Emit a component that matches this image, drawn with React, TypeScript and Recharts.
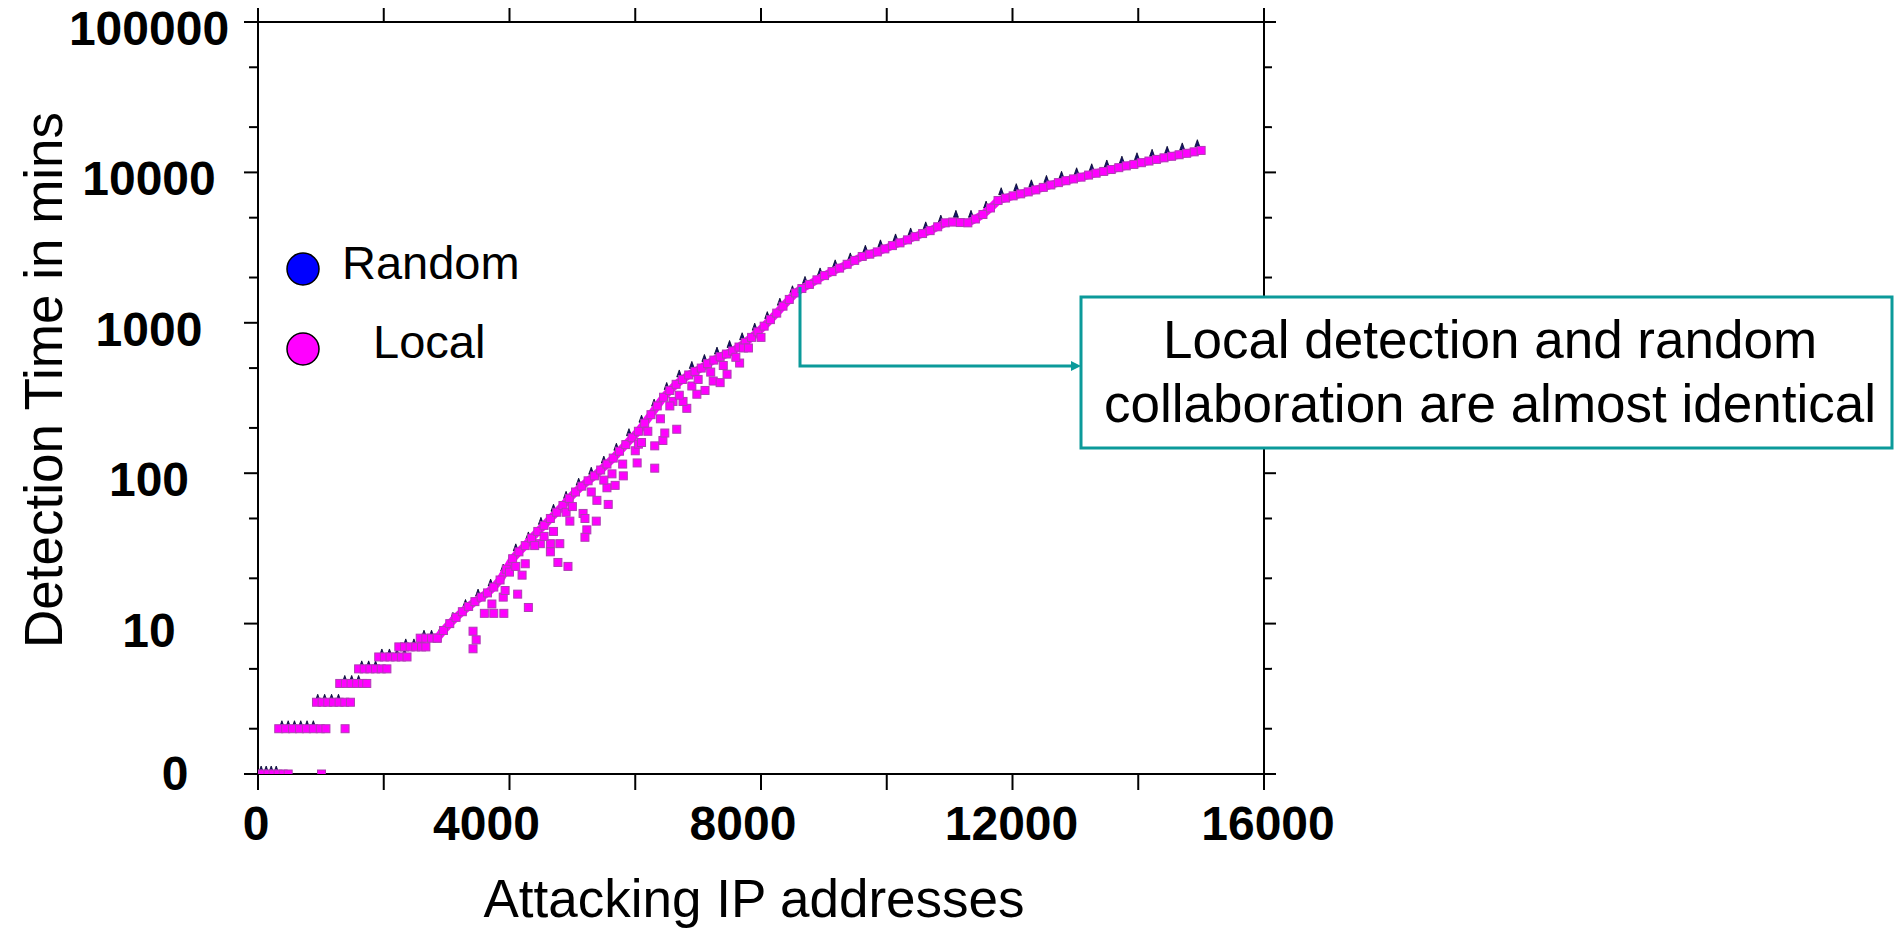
import { ScatterChart, Scatter, XAxis, YAxis } from 'recharts'

const W = 1895
const H = 930
const PLOT_LEFT = 258
const PLOT_RIGHT = 1264
const PLOT_TOP = 22
const PLOT_BOTTOM = 774
const FONT = '"Liberation Sans", Arial, Helvetica, sans-serif'
const TEAL = '#0b9a9a'

// axis ticks
const xTicks = [0, 2000, 4000, 6000, 8000, 10000, 12000, 14000, 16000]
const xLabelled = [0, 4000, 8000, 12000, 16000]
const yTicks = [1, 2, 5, 10, 20, 50, 100, 200, 500, 1000, 2000, 5000, 10000, 20000, 50000, 100000]
const yMajor = [1, 10, 100, 1000, 10000, 100000]

// Random collaboration: [attacking IPs, detection time in mins]
const randomSteps: [number, number][] = [
  [50, 1], [130, 1], [210, 1], [290, 1],
  [380, 2], [480, 2], [580, 2], [680, 2], [780, 2], [880, 2],
  [950, 3], [1060, 3], [1170, 3], [1280, 3],
  [1380, 4], [1490, 4], [1600, 4],
  [1650, 5], [1760, 5], [1870, 5],
  [1970, 6], [2090, 6], [2210, 6], [2330, 6],
  [2350, 7], [2480, 7], [2610, 7],
  [2640, 8], [2760, 8],
]

const randomCurve: [number, number][] = [
  [2900, 8.5], [3100, 10.5], [3300, 12.8], [3500, 15], [3700, 17.5], [3900, 22],
  [4100, 30], [4300, 36], [4500, 45], [4700, 55], [4900, 67], [5100, 82],
  [5300, 97], [5500, 115], [5700, 140], [5900, 175], [6100, 215], [6300, 275],
  [6500, 355], [6700, 430], [6900, 490], [7100, 545], [7300, 610], [7500, 675],
  [7700, 760], [7900, 880], [8100, 1050], [8300, 1290], [8500, 1560], [8700, 1800],
  [8940, 2050], [9180, 2320], [9420, 2580], [9660, 2900], [9900, 3150], [10140, 3450],
  [10380, 3780], [10620, 4150], [10860, 4600], [11100, 4950], [11340, 4950], [11580, 5700],
  [11820, 7000], [12060, 7450], [12300, 7900], [12540, 8450], [12780, 9000], [13020, 9500],
  [13260, 10100], [13500, 10700], [13740, 11350], [13980, 11950], [14220, 12600],
  [14460, 13200], [14700, 13900], [14940, 14600],
]

// Local detection
const localSteps: [number, number][] = [
  [0, 1], [80, 1], [160, 1], [240, 1], [320, 1], [400, 1], [480, 1], [1010, 1],
  [330, 2], [440, 2], [550, 2], [660, 2], [770, 2], [880, 2], [990, 2], [1080, 2], [1385, 2],
  [930, 3], [1020, 3], [1110, 3], [1200, 3], [1290, 3], [1380, 3], [1470, 3],
  [1300, 4], [1390, 4], [1480, 4], [1570, 4], [1660, 4], [1730, 4],
  [1600, 5], [1690, 5], [1780, 5], [1870, 5], [1960, 5], [2050, 5],
  [1920, 6], [2010, 6], [2100, 6], [2190, 6], [2280, 6], [2370, 6],
  [2240, 7], [2330, 7], [2420, 7], [2510, 7], [2600, 7], [2670, 7],
  [2580, 8], [2670, 8], [2760, 8], [2850, 8],
]

const localCurve: [number, number][] = [
  [2850, 8], [2950, 9], [3050, 10], [3150, 11], [3250, 12], [3350, 13], [3450, 14],
  [3550, 15], [3650, 16], [3750, 17.5], [3850, 19.5], [3950, 23], [4050, 27], [4150, 30],
  [4250, 33], [4350, 37], [4450, 41], [4550, 45], [4650, 50], [4750, 55], [4850, 61],
  [4950, 68], [5050, 75], [5150, 82], [5250, 89], [5350, 96], [5450, 105], [5550, 115],
  [5650, 126], [5750, 140], [5850, 155], [5950, 172], [6050, 190], [6150, 215], [6250, 245],
  [6350, 280], [6450, 320], [6550, 355], [6650, 390], [6750, 420], [6850, 450], [6950, 475],
  [7050, 500], [7150, 535], [7250, 565], [7350, 595], [7450, 620], [7550, 650], [7650, 690],
  [7750, 740], [7850, 800], [7950, 870], [8050, 950], [8150, 1050], [8250, 1160], [8350, 1290],
  [8450, 1430], [8550, 1580], [8650, 1690], [8770, 1800], [8890, 1930], [9010, 2060],
  [9130, 2190], [9250, 2310], [9370, 2450], [9490, 2600], [9610, 2760], [9730, 2860],
  [9850, 2960], [9970, 3100], [10090, 3260], [10210, 3400], [10330, 3560], [10450, 3740],
  [10570, 3920], [10690, 4100], [10810, 4350], [10930, 4620], [11050, 4680], [11170, 4640],
  [11290, 4620], [11410, 4900], [11530, 5250], [11650, 5800], [11770, 6500], [11890, 6750],
  [12010, 6980], [12130, 7200], [12250, 7420], [12370, 7650], [12490, 7950], [12610, 8250],
  [12730, 8550], [12850, 8800], [12970, 9050], [13090, 9300], [13210, 9600], [13330, 9880],
  [13450, 10150], [13570, 10450], [13690, 10750], [13810, 11050], [13930, 11300],
  [14050, 11600], [14170, 11900], [14290, 12200], [14410, 12500], [14530, 12800],
  [14650, 13100], [14770, 13400], [14890, 13700], [15000, 14000],
]

const localSpread: [number, number][] = [
  [3420, 8.9], [3470, 7.8], [3420, 6.8], [3600, 11.7], [3750, 11.7], [3910, 11.7],
  [3720, 13.5], [3900, 15], [3930, 16.6], [4130, 15.7], [4300, 12.8], [4200, 21],
  [4250, 25], [4490, 34], [4650, 34], [4800, 34], [4650, 30], [4770, 25.5], [4930, 24],
  [4700, 41], [4960, 48], [5170, 54], [5200, 50], [5380, 48], [5230, 42], [5200, 37.5],
  [5390, 66], [5570, 62], [5550, 80], [5680, 83], [5810, 96], [5630, 99], [6030, 117],
  [6000, 141], [6050, 156], [6310, 108], [6310, 152], [6440, 165], [6470, 185], [6660, 196],
  [6820, 270], [6760, 300], [6600, 300], [6980, 335], [7110, 355], [7240, 410], [7350, 400],
  [7460, 455], [7660, 540], [7720, 680],
  [4000, 22], [4100, 24], [4400, 33], [4550, 38], [4900, 55], [5000, 60], [5300, 75],
  [5500, 90], [5800, 115], [6100, 160], [6200, 190], [6400, 230], [6550, 280], [6700, 330],
  [6900, 380], [7000, 420], [7200, 470], [7400, 520], [7600, 590], [7800, 680], [8000, 800],
]

const toPts = (arr: [number, number][]) => arr.map(([x, y]) => ({ x, y }))

const xLabelShift: Record<number, number> = { 0: -2, 4000: -23, 8000: -18, 12000: -1, 16000: 4 }

// eslint-disable-next-line @typescript-eslint/no-explicit-any
function Square(props: any) {
  const { cx, cy } = props
  if (cx == null || cy == null) return <g />
  return (
    <rect x={cx - 4} y={cy - 4} width={8} height={8} fill="#ff00ff" stroke="#b03cb4" strokeWidth={1} />
  )
}

// eslint-disable-next-line @typescript-eslint/no-explicit-any
function Triangle(props: any) {
  const { cx, cy } = props
  if (cx == null || cy == null) return <g />
  return (
    <path
      d={`M${cx - 2.5},${cy - 1} L${cx + 2.5},${cy - 1} L${cx},${cy - 8} Z`}
      fill="#14146e"
      stroke="#00002a"
      strokeWidth={0.8}
    />
  )
}

// eslint-disable-next-line @typescript-eslint/no-explicit-any
function LeftTick(props: any) {
  const { y, payload } = props
  const v = payload?.value
  const major = yMajor.includes(v)
  const zero = v === 1
  return (
    <g>
      <line x1={PLOT_LEFT - (major ? 14 : 9)} x2={PLOT_LEFT} y1={y} y2={y} stroke="#000" strokeWidth={2} />
      {major && (
        <text
          x={zero ? 175 : 149}
          y={y + (zero ? 16 : 23)}
          textAnchor="middle"
          fontFamily={FONT}
          fontWeight="bold"
          fontSize={48}
          fill="#000"
        >
          {zero ? '0' : String(v)}
        </text>
      )}
    </g>
  )
}

// eslint-disable-next-line @typescript-eslint/no-explicit-any
function RightTick(props: any) {
  const { y, payload } = props
  const major = yMajor.includes(payload?.value)
  return <line x1={PLOT_RIGHT} x2={PLOT_RIGHT + (major ? 12 : 8)} y1={y} y2={y} stroke="#000" strokeWidth={2} />
}

// eslint-disable-next-line @typescript-eslint/no-explicit-any
function BottomTick(props: any) {
  const { x, payload } = props
  const v = payload?.value
  return (
    <g>
      <line x1={x} x2={x} y1={PLOT_BOTTOM} y2={PLOT_BOTTOM + 16} stroke="#000" strokeWidth={2} />
      {xLabelled.includes(v) && (
        <text
          x={x + (xLabelShift[v] ?? 0)}
          y={840}
          textAnchor="middle"
          fontFamily={FONT}
          fontWeight="bold"
          fontSize={48}
          fill="#000"
        >
          {v}
        </text>
      )}
    </g>
  )
}

// eslint-disable-next-line @typescript-eslint/no-explicit-any
function TopTick(props: any) {
  const { x } = props
  return <line x1={x} x2={x} y1={PLOT_TOP - 14} y2={PLOT_TOP} stroke="#000" strokeWidth={2} />
}

const axisLine = { stroke: '#000', strokeWidth: 2 }

export default function App() {
  return (
    <div style={{ position: 'absolute', left: 0, top: 0, width: W, height: H, background: '#fff' }}>
      <ScatterChart width={W} height={H} margin={{ top: 12, right: 611, bottom: 96, left: 58 }}>
        <XAxis
          xAxisId="b"
          type="number"
          dataKey="x"
          domain={[0, 16000]}
          ticks={xTicks}
          interval={0}
          height={60}
          axisLine={axisLine}
          tickLine={false}
          tick={BottomTick}
          allowDataOverflow
        />
        <XAxis
          xAxisId="t"
          orientation="top"
          type="number"
          dataKey="x"
          domain={[0, 16000]}
          ticks={xTicks}
          interval={0}
          height={10}
          axisLine={axisLine}
          tickLine={false}
          tick={TopTick}
          allowDataOverflow
        />
        <YAxis
          yAxisId="l"
          type="number"
          dataKey="y"
          scale="log"
          domain={[1, 100000]}
          ticks={yTicks}
          interval={0}
          width={200}
          axisLine={axisLine}
          tickLine={false}
          tick={LeftTick}
          allowDataOverflow
        />
        <YAxis
          yAxisId="r"
          orientation="right"
          type="number"
          dataKey="y"
          scale="log"
          domain={[1, 100000]}
          ticks={yTicks}
          interval={0}
          width={20}
          axisLine={axisLine}
          tickLine={false}
          tick={RightTick}
          allowDataOverflow
        />
        <Scatter xAxisId="b" yAxisId="l" name="Random" data={toPts([...randomSteps, ...randomCurve])} shape={Triangle} isAnimationActive={false} />
        <Scatter xAxisId="b" yAxisId="l" name="Local" data={toPts(localSteps)} shape={Square} isAnimationActive={false} />
        <Scatter
          xAxisId="b"
          yAxisId="l"
          name="Local"
          data={toPts(localCurve)}
          shape={Square}
          line={{ stroke: '#ff00ff', strokeWidth: 8 }}
          isAnimationActive={false}
        />
        <Scatter xAxisId="b" yAxisId="l" name="Local" data={toPts(localSpread)} shape={Square} isAnimationActive={false} />
      </ScatterChart>

      <svg
        width={W}
        height={H}
        style={{ position: 'absolute', left: 0, top: 0, pointerEvents: 'none' }}
        fontFamily={FONT}
      >
        {/* axis titles */}
        <text x={754} y={917} textAnchor="middle" fontSize={53} fill="#000">
          Attacking IP addresses
        </text>
        <text transform="translate(62,380) rotate(-90)" textAnchor="middle" fontSize={53} fill="#000">
          Detection Time in mins
        </text>

        {/* legend */}
        <circle cx={303} cy={269} r={16} fill="#0000ff" stroke="#000" strokeWidth={1.5} />
        <text x={342} y={279} fontSize={47} fill="#000">Random</text>
        <circle cx={303} cy={349} r={16} fill="#ff00ff" stroke="#000" strokeWidth={1.5} />
        <text x={373} y={358} fontSize={47} fill="#000">Local</text>

        {/* annotation */}
        <polyline points="800,287 800,366 1074,366" fill="none" stroke={TEAL} strokeWidth={3} />
        <path d="M1071,361 L1081,366 L1071,371 Z" fill={TEAL} />
        <rect x={1081} y={297} width={811} height={151} fill="#fff" stroke={TEAL} strokeWidth={3} />
        <text x={1490} y={358} textAnchor="middle" fontSize={53} fill="#000">
          Local detection and random
        </text>
        <text x={1490} y={422} textAnchor="middle" fontSize={53} fill="#000">
          collaboration are almost identical
        </text>
      </svg>
    </div>
  )
}
